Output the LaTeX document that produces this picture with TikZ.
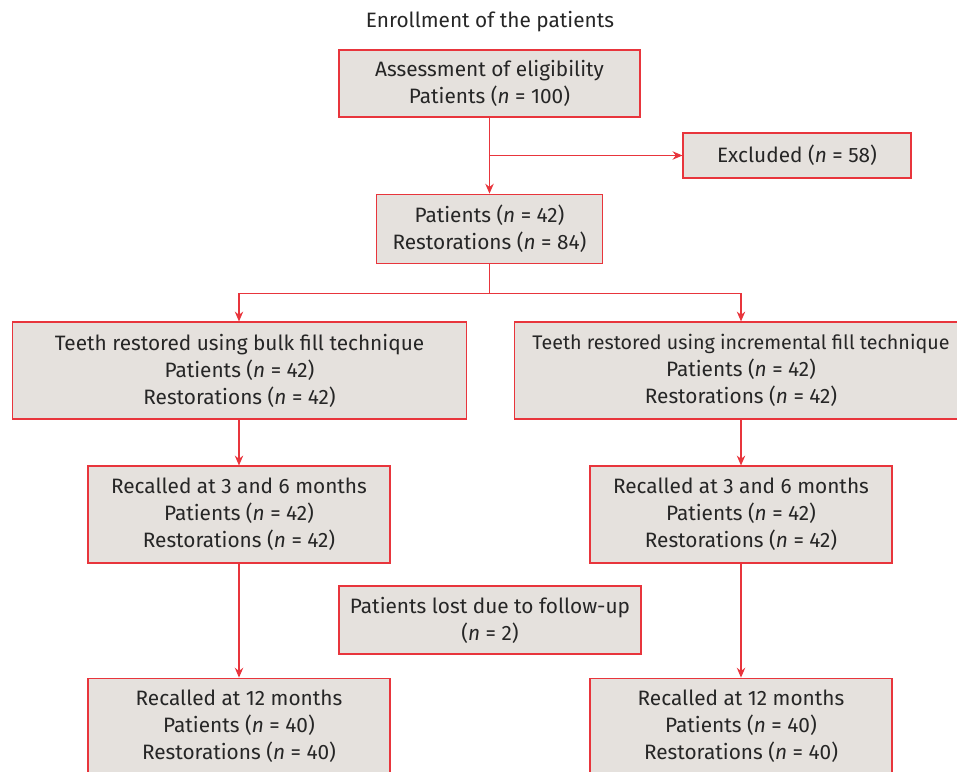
\documentclass[tikz,border=0pt]{standalone}
\usepackage{fontspec}
\setmainfont{Fira Sans}
\usepackage{tikz}
\usetikzlibrary{arrows.meta, positioning}
\definecolor{boxred}{HTML}{E8353C}
\definecolor{boxfill}{HTML}{E5E1DD}
\definecolor{txtgray}{HTML}{262626}

\begin{document}
\begin{tikzpicture}[
        x=0.025cm, y=-0.025cm,
        box/.style={rectangle, draw=boxred, fill=boxfill, line width=0.8pt, inner sep=0pt, align=center, minimum width=7.55cm, minimum height=2.425cm, text=txtgray},
        wide/.style={box, minimum width=11.33cm},
        arrow/.style={-{Stealth[length=7pt, width=6pt]}, draw=boxred, line width=0.8pt},
        every node/.style={font=\fontsize{14.8}{19.2}\selectfont}
    ]

        \clip (0,0) rectangle (957,771);
        \useasboundingbox (0,0) rectangle (957,771);

        % Titel und Eignung
        \node[text=txtgray] (title) at (490,22) {Enrollment of the patients};
        \node[box, minimum width=7.525cm, minimum height=1.675cm] (assess) at (489.5,83.5) {Assessment of eligibility\\Patients (\textit{n} = 100)};
        \node[box, minimum width=5.7cm, minimum height=1.125cm] (excl) at (797,155.5) {Excluded (\textit{n} = 58)};
        \node[box, minimum width=5.65cm, minimum height=1.725cm, below=1.9cm of assess] (incl) {Patients (\textit{n} = 42)\\Restorations (\textit{n} = 84)};

        % Zwei Gruppen
        \node[wide] (bulk) at (239.5,370.5) {Teeth restored using bulk fill technique\\Patients (\textit{n} = 42)\\Restorations (\textit{n} = 42)};
        \node[wide] (incr) at (741,370.5) {{\fontsize{14}{19.2}\selectfont Teeth restored using incremental fill technique}\\Patients (\textit{n} = 42)\\Restorations (\textit{n} = 42)};

        % Kontrollen
        \node[box] (bulkA) at (239,514.5) {Recalled at 3 and 6 months\\Patients (\textit{n} = 42)\\Restorations (\textit{n} = 42)};
        \node[box] (incrA) at (741,514.5) {Recalled at 3 and 6 months\\Patients (\textit{n} = 42)\\Restorations (\textit{n} = 42)};
        \node[box, minimum height=1.7cm] (lost) at (490,620) {Patients lost due to follow-up\\(\textit{n} = 2)};
        \node[box, below=2.85cm of bulkA] (bulkB) {Recalled at 12 months\\Patients (\textit{n} = 40)\\Restorations (\textit{n} = 40)};
        \node[box, below=2.85cm of incrA] (incrB) {Recalled at 12 months\\Patients (\textit{n} = 40)\\Restorations (\textit{n} = 40)};

        % Pfeile
        \draw[arrow] (assess) -- (incl);
        \draw[arrow] (assess.south |- excl.west) -- (excl.west);
        \draw[arrow] (incl.south) -- ++(0,30) -| (bulk.north -| bulkA.north);
        \draw[arrow] (incl.south) -- ++(0,30) -| (incr.north);
        \draw[arrow] (bulk.south -| bulkA.north) -- (bulkA);
        \draw[arrow] (incr) -- (incrA);
        \draw[arrow] (bulkA) -- (bulkB);
        \draw[arrow] (incrA) -- (incrB);

    \end{tikzpicture}
\end{document}
